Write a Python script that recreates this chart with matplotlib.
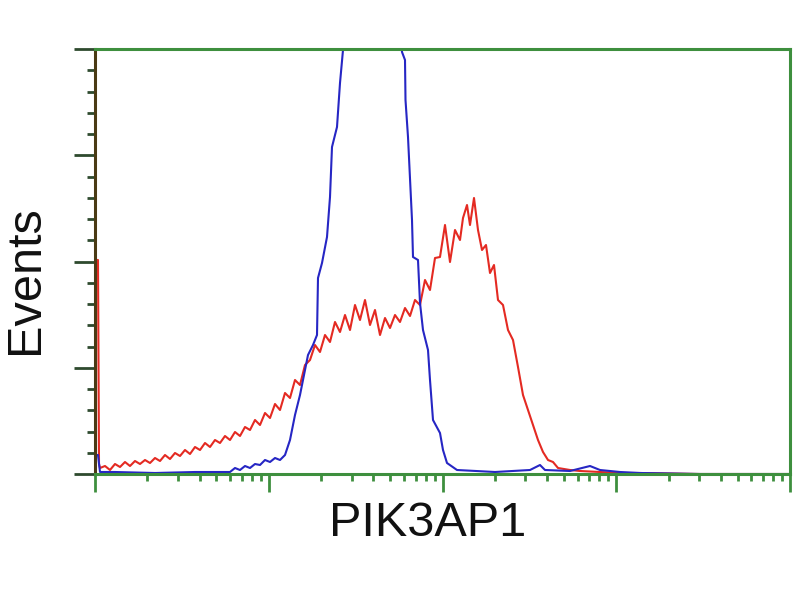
import numpy as np
from matplotlib import pyplot as plt
from matplotlib.ticker import LogLocator, NullFormatter, FixedLocator

# channel = position along the 4-decade log axis (0..695), counts = events
red_ch = [0, 1, 3, 4, 5, 10, 15, 20, 25, 30, 35, 40, 45, 50, 55, 60, 65, 70, 75, 80,
          85, 90, 95, 100, 105, 110, 115, 120, 125, 130, 135, 140, 145, 150, 155, 160,
          165, 170, 175, 180, 185, 190, 195, 200, 205, 210, 215, 220, 225, 230, 235,
          240, 245, 250, 255, 260, 265, 270, 275, 280, 285, 290, 295, 300, 305, 310,
          315, 320, 325, 330, 335, 340, 345, 350, 355, 360, 365, 368, 372, 375, 379,
          383, 387, 391, 395, 399, 403, 408, 413, 418, 423, 428, 433, 438, 443, 448,
          453, 458, 463, 475, 485, 505, 525, 545, 605, 695]
red_cnt = [0, 214, 214, 10, 6, 8, 4, 10, 7, 12, 8, 13, 10, 14, 11, 16, 13, 19, 15, 21,
           18, 24, 20, 27, 24, 31, 27, 34, 31, 38, 34, 42, 38, 47, 44, 54,
           49, 61, 56, 70, 64, 81, 76, 94, 89, 109, 114, 129, 122, 139, 132,
           152, 142, 159, 144, 169, 154, 174, 149, 164, 139, 156, 146, 159, 152, 166,
           158, 174, 169, 194, 184, 216, 217, 249, 212, 244, 234, 256, 269, 249, 276,
           244, 224, 229, 201, 209, 174, 169, 144, 134, 107, 79, 64, 49, 34, 22,
           14, 12, 6, 4, 3, 2, 1, 1, 0, 0]

blue_ch = [0, 1, 3, 5, 20, 60, 100, 135, 140, 145, 150, 155, 160, 165, 170, 175, 180,
           185, 190, 195, 200, 205, 210, 213, 218, 222, 223, 227, 232, 235, 237, 242,
           245, 248, 250, 260, 275, 290, 300, 307, 310, 310.5, 313, 317, 318, 323, 325,
           328, 333, 335, 338, 345, 348, 352, 362, 400, 435, 445, 450, 475, 495, 505,
           525, 545, 605, 695]
blue_cnt = [0, 19, 19, 2, 2, 1, 2, 2, 6, 4, 8, 6, 10, 9, 14, 12, 16,
            14, 19, 34, 59, 79, 104, 119, 129, 139, 196, 211, 237, 277, 327, 347,
            391, 424, 460, 500, 520, 530, 510, 422, 414, 374, 337, 254, 217, 214, 171,
            144, 124, 94, 54, 41, 24, 11, 4, 2, 4, 9, 4, 3, 8, 4,
            2, 1, 0, 0]

green = '#3e8f3e'

def to_x(ch):
    return 10 ** (np.array(ch) / 173.75)

fig = plt.figure(figsize=(8, 6), dpi=100)
ax = fig.add_axes([95/800, 1 - 474/600, 695/800, 425/600])

ax.plot(to_x(red_ch), red_cnt, color='#e42a22', lw=1.5)
ax.plot(to_x(blue_ch), blue_cnt, color='#2626c4', lw=1.5)

ax.set_xscale('log')
ax.set_xlim(1, 1e4)
ax.set_ylim(0, 425)

ax.xaxis.set_major_locator(LogLocator(base=10, numticks=10))
ax.xaxis.set_minor_locator(LogLocator(base=10, subs=np.arange(2, 10), numticks=50))
ax.xaxis.set_major_formatter(NullFormatter())
ax.xaxis.set_minor_formatter(NullFormatter())
ax.yaxis.set_major_locator(FixedLocator(np.linspace(0, 425, 5)))
ax.yaxis.set_minor_locator(FixedLocator(np.linspace(0, 425, 21)))
ax.set_yticklabels([])

ax.tick_params(axis='x', which='major', length=13, width=2, color=green, direction='out')
ax.tick_params(axis='x', which='minor', length=5, width=2, color=green, direction='out')
ax.tick_params(axis='y', which='major', length=15, width=2, color='#2e4a2e', direction='out')
ax.tick_params(axis='y', which='minor', length=6, width=2, color='#2e4a2e', direction='out')

for side in ['top', 'right', 'bottom']:
    ax.spines[side].set_color(green)
    ax.spines[side].set_linewidth(2.2)
ax.spines['left'].set_color('#4a3a14')
ax.spines['left'].set_linewidth(2.2)

fig.text(428/800, 1 - 523/600, 'PIK3AP1', fontsize=35, family='Liberation Sans',
         ha='center', va='center', color='#111111')
fig.text(25/800, 1 - 280/600, 'Events', fontsize=35, family='Liberation Sans',
         ha='center', va='center', rotation=90, color='#111111')

fig.savefig('out.png', dpi=100)
